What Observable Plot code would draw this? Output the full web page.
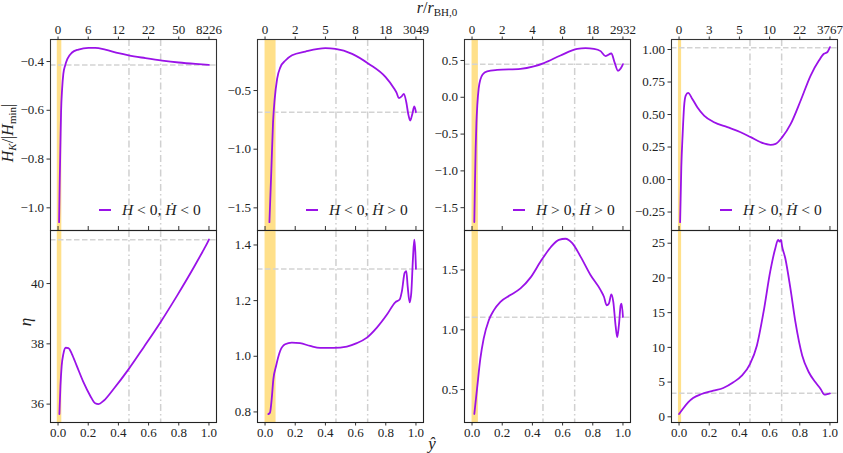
<!DOCTYPE html>
<html>
<head>
<meta charset="utf-8">
<script src="https://cdn.jsdelivr.net/npm/d3@7"></script>
<script src="https://cdn.jsdelivr.net/npm/@observablehq/plot@0.6"></script>
<style>
  body { margin: 0; background: #fff; }
  #c { position: relative; width: 843px; height: 453px; font-family: "Liberation Serif", serif; color: #222; overflow: hidden; }
  #c svg { position: absolute; }
  #c svg text { font-family: "Liberation Serif", serif !important; }
  .lab { position: absolute; font-size: 16px; white-space: nowrap; line-height: 1; }
  .lab sub { font-size: 11px; vertical-align: -3px; }
  .leg { position: absolute; font-size: 15.5px; white-space: nowrap; display: flex; align-items: center; }
  .leg .ln { display: inline-block; width: 12px; height: 2px; margin-right: 11px; }
</style>
</head>
<body>
<div id="c"></div>
<script>
// ---------- data ----------
const yhatTicks = [0, 0.2, 0.4, 0.6, 0.8, 1.0];
const rLabels1 = ["0", "6", "12", "22", "50", "8226"];
const rLabels2 = ["0", "2", "5", "8", "18", "3049"];
const rLabels3 = ["0", "2", "4", "8", "18", "2932"];
const rLabels4 = ["0", "3", "5", "10", "22", "3767"];
const legendLabels = ["<i>H</i> &lt; 0, <i>Ḣ</i> &lt; 0", "<i>H</i> &lt; 0, <i>Ḣ</i> &gt; 0", "<i>H</i> &gt; 0, <i>Ḣ</i> &gt; 0", "<i>H</i> &gt; 0, <i>Ḣ</i> &lt; 0"];

// H_K/|H_min| (top row)
const hkX1 = [0.007,0.011,0.016,0.02,0.027,0.035,0.047,0.062,0.091,0.135,0.202,0.246,0.313,0.401,0.468,0.579,0.69,0.80,0.911,1.0];
const hkY1 = [-1.059,-0.896,-0.731,-0.608,-0.512,-0.451,-0.416,-0.389,-0.364,-0.351,-0.344,-0.344,-0.351,-0.366,-0.375,-0.386,-0.396,-0.404,-0.41,-0.414];
const hkX2 = [0.029,0.042,0.053,0.064,0.08,0.102,0.135,0.179,0.268,0.40,0.467,0.577,0.688,0.799,0.854,0.872,0.887,0.905,0.92,0.936,0.949,0.962,0.976,0.989,1.0];
const hkY2 = [-1.622,-1.168,-0.77,-0.571,-0.40,-0.30,-0.244,-0.20,-0.168,-0.139,-0.145,-0.187,-0.273,-0.386,-0.48,-0.52,-0.565,-0.55,-0.528,-0.60,-0.70,-0.756,-0.699,-0.636,-0.685];
const hkX3 = [0.015,0.019,0.024,0.029,0.035,0.044,0.055,0.07,0.10,0.166,0.321,0.409,0.476,0.586,0.697,0.752,0.808,0.852,0.885,0.923,0.945,0.967,0.985,1.0];
const hkY3 = [-1.695,-1.2,-0.7,-0.35,-0.1,0.12,0.24,0.31,0.353,0.371,0.385,0.419,0.464,0.568,0.658,0.667,0.658,0.627,0.56,0.595,0.47,0.36,0.39,0.45];
const hkX4 = [0.007,0.015,0.024,0.033,0.044,0.06,0.088,0.121,0.166,0.232,0.32,0.408,0.475,0.541,0.607,0.64,0.684,0.74,0.806,0.872,0.927,0.96,0.982,1.0];
const hkY4 = [-0.328,0.095,0.351,0.556,0.646,0.667,0.62,0.556,0.492,0.441,0.403,0.364,0.326,0.287,0.267,0.274,0.326,0.428,0.608,0.8,0.915,0.967,0.979,1.018];

// eta (bottom row)
const etaX1 = [0.009,0.016,0.024,0.035,0.051,0.069,0.091,0.124,0.169,0.213,0.246,0.268,0.302,0.368,0.468,0.568,0.678,0.789,0.9,0.956,0.978,1.0];
const etaY1 = [35.67,36.61,37.27,37.66,37.87,37.86,37.67,37.27,36.72,36.28,36.03,36.0,36.11,36.5,37.16,37.89,38.71,39.6,40.54,41.04,41.24,41.46];
const etaX2 = [0.022,0.033,0.044,0.055,0.073,0.10,0.133,0.177,0.232,0.299,0.365,0.454,0.542,0.608,0.675,0.741,0.808,0.863,0.892,0.907,0.925,0.936,0.945,0.958,0.969,0.98,0.989,0.996,1.0];
const etaY2 = [0.792,0.798,0.846,0.917,0.965,1.019,1.043,1.049,1.047,1.037,1.03,1.03,1.035,1.047,1.067,1.103,1.15,1.194,1.204,1.234,1.30,1.306,1.252,1.194,1.228,1.35,1.419,1.374,1.314];
const etaX3 = [0.015,0.033,0.055,0.077,0.111,0.144,0.188,0.254,0.321,0.387,0.454,0.52,0.575,0.619,0.664,0.719,0.785,0.852,0.874,0.892,0.907,0.923,0.936,0.951,0.962,0.973,0.985,0.991,1.0];
const etaY3 = [0.296,0.506,0.758,0.926,1.08,1.162,1.233,1.29,1.346,1.436,1.57,1.688,1.752,1.761,1.724,1.612,1.458,1.331,1.276,1.205,1.22,1.296,1.233,1.037,0.938,1.036,1.205,1.219,1.107];
const etaX4 = [0.0,0.027,0.06,0.093,0.149,0.227,0.293,0.36,0.416,0.471,0.516,0.56,0.604,0.638,0.656,0.667,0.676,0.682,0.704,0.738,0.771,0.816,0.86,0.904,0.938,0.964,0.982,1.0];
const etaY4 = [0.39,1.2,2.08,2.7,3.28,3.76,4.15,4.97,5.94,7.63,10.28,15.1,20.9,24.28,25.48,25.24,25.48,24.66,22.83,18.48,13.66,8.83,6.42,4.97,4.0,3.19,3.28,3.38];

// reference lines, bands, domains and ticks
const hkRef = [-0.414, -0.685, 0.45, 1.013];
const etaRef = [41.45, 1.314, 1.105, 3.38];
const bandLo = [-0.005, 0.0, 0.0, -0.004];
const bandHi = [0.025, 0.073, 0.042, 0.017];
const vLines = [0.47, 0.68];
const hkDomains = [[-1.093, -0.3097], [-1.693, -0.065], [-1.81, 0.785], [-0.392, 1.077]];
const etaDomains = [[35.39, 41.76], [0.762, 1.452], [0.225, 1.83], [-0.82, 26.83]];
const hkTicks1 = [-1.0, -0.8, -0.6, -0.4];
const hkTicks2 = [-1.5, -1.0, -0.5];
const hkTicks3 = [-1.5, -1.0, -0.5, 0.0, 0.5];
const hkTicks4 = [-0.25, 0.0, 0.25, 0.5, 0.75, 1.0];
const etaTicks1 = [36, 38, 40];
const etaTicks2 = [0.8, 1.0, 1.2, 1.4];
const etaTicks3 = [0.5, 1.0, 1.5];
const etaTicks4 = [0, 5, 10, 15, 20, 25];

// ---------- layout ----------
const purple = "#9a12e8";
const FONT = "Liberation Serif, serif";
const frameLefts = [50, 257, 464, 671];
const FW = 166, ML = 50, MR = 4;
const container = document.getElementById("c");

const hkX = [hkX1, hkX2, hkX3, hkX4], hkY = [hkY1, hkY2, hkY3, hkY4];
const etaX = [etaX1, etaX2, etaX3, etaX4], etaY = [etaY1, etaY2, etaY3, etaY4];
const hkTicks = [hkTicks1, hkTicks2, hkTicks3, hkTicks4];
const etaTicks = [etaTicks1, etaTicks2, etaTicks3, etaTicks4];
const hkFmt = [d3.format(".1f"), d3.format(".1f"), d3.format(".1f"), d3.format(".2f")];
const etaFmt = [d3.format("d"), d3.format(".1f"), d3.format(".1f"), d3.format("d")];
const rLabels = [rLabels1, rLabels2, rLabels3, rLabels4];

function panel(i, top) {
  const xs = top ? hkX[i] : etaX[i];
  const ys = top ? hkY[i] : etaY[i];
  const data = xs.map((x, k) => ({x, y: ys[k]}));
  const mt = top ? 39 : 4, mb = top ? 4 : 31;
  const fh = top ? 191 : 192;
  const axisStyle = {label: null, fontSize: 13, fontFamily: FONT, stroke: "#333", fill: "#222", tickSize: 3.5};
  const marks = [
    Plot.rect([0], {x1: () => bandLo[i], x2: () => bandHi[i], fill: "#ffe08a"}),
    Plot.ruleX(vLines, {stroke: "#d0d0d0", strokeWidth: 1.5, strokeDasharray: "7,3,1.5,3"}),
    Plot.ruleY([top ? hkRef[i] : etaRef[i]], {stroke: "#d3d3d3", strokeWidth: 1.5, strokeDasharray: "5.5,2.5"}),
    Plot.line(data, {x: "x", y: "y", stroke: purple, strokeWidth: 1.8, curve: "monotone-x"}),
    Plot.axisY(top ? hkTicks[i] : etaTicks[i], {...axisStyle, tickFormat: top ? hkFmt[i] : etaFmt[i], tickPadding: 3}),
  ];
  if (top) {
    marks.push(Plot.axisX(yhatTicks, {...axisStyle, anchor: "top", tickFormat: d => rLabels[i][Math.round(d * 5)], tickPadding: 2}));
    marks.push(Plot.tickX(yhatTicks, {x: d => d, insetTop: fh - 4, stroke: "#333"}));
  } else {
    marks.push(Plot.axisX(yhatTicks, {...axisStyle, anchor: "bottom", tickFormat: d3.format(".1f"), tickPadding: 2}));
  }
  marks.push(Plot.frame({stroke: top ? "#333" : "#222", strokeWidth: 1.1}));
  const p = Plot.plot({
    width: ML + FW + MR,
    height: mt + fh + mb,
    marginLeft: ML, marginRight: MR, marginTop: mt, marginBottom: mb,
    x: {domain: [-0.05, 1.05], label: null},
    y: {domain: top ? hkDomains[i] : etaDomains[i], label: null},
    style: {fontFamily: FONT, fontSize: "13px", background: "transparent", overflow: "visible", color: "#222"},
    marks
  });
  p.style.left = (frameLefts[i] - ML) + "px";
  p.style.top = (top ? 0 : 226) + "px";
  container.appendChild(p);
}

for (let i = 0; i < 4; i++) panel(i, true);
for (let i = 0; i < 4; i++) panel(i, false);

// legends
for (let i = 0; i < 4; i++) {
  const d = document.createElement("div");
  d.className = "leg";
  d.style.left = (frameLefts[i] + 49) + "px";
  d.style.top = "201px";
  d.innerHTML = `<span class="ln" style="background:${purple}"></span><span>${legendLabels[i]}</span>`;
  container.appendChild(d);
}

// axis labels (positioned by their centre)
function lab(html, cx, cy, rot, size) {
  const d = document.createElement("div");
  d.className = "lab";
  d.innerHTML = html;
  d.style.left = cx + "px";
  d.style.top = cy + "px";
  if (size) d.style.fontSize = size + "px";
  d.style.transform = `translate(-50%, -50%)${rot ? " rotate(-90deg)" : ""}`;
  container.appendChild(d);
}
lab("<i>r</i>/<i>r</i><sub>BH,0</sub>", 437, 9, false);
lab("<i>ŷ</i>", 432, 443, false, 17);
lab("<i>H<sub>K</sub></i>/|<i>H</i><sub>min</sub>|", 9, 133, true);
lab("<i>η</i>", 25, 322, true, 17);
</script>
</body>
</html>
